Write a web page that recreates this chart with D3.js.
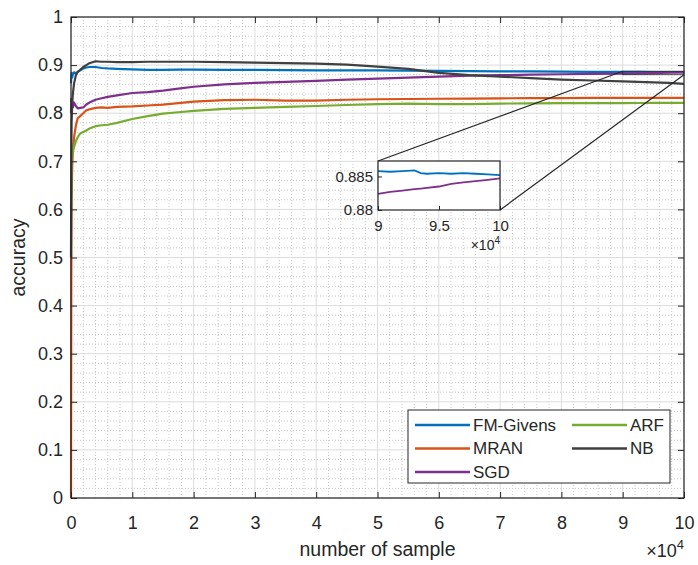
<!DOCTYPE html>
<html>
<head>
<meta charset="utf-8">
<script src="https://cdn.jsdelivr.net/npm/d3@7"></script>
<style>
body { margin: 0; background: #fff; }
svg { font-family: Arial, "Liberation Sans", Helvetica, sans-serif; }
</style>
</head>
<body>
<script>
// number of samples, in units of 10^4
var samples = [0, 0.005, 0.01, 0.02, 0.03, 0.05, 0.08, 0.11, 0.15, 0.2,
    0.25, 0.3, 0.4, 0.5, 0.6, 0.75, 1, 1.25, 1.5, 1.75,
    2, 2.5, 3, 3.5, 4, 4.5, 5, 5.5, 6, 6.5,
    7, 7.5, 8, 8.5, 9, 9.25, 9.5, 9.75, 10];

var fmGivens = [0.862, 0.878, 0.884, 0.874, 0.880, 0.885, 0.883, 0.886, 0.889, 0.893,
    0.895, 0.896, 0.896, 0.894, 0.893, 0.892, 0.891, 0.890, 0.890, 0.8905,
    0.8905, 0.890, 0.890, 0.8895, 0.889, 0.889, 0.889, 0.8885, 0.888, 0.8875,
    0.887, 0.8868, 0.8865, 0.886, 0.8858, 0.8859, 0.8855, 0.8854, 0.8852];

var mran = [0, 0.45, 0.62, 0.69, 0.72, 0.75, 0.775, 0.79, 0.794, 0.80,
    0.806, 0.808, 0.811, 0.812, 0.811, 0.813, 0.814, 0.816, 0.818, 0.821,
    0.824, 0.827, 0.828, 0.826, 0.826, 0.828, 0.829, 0.8295, 0.830, 0.8305,
    0.831, 0.8312, 0.8315, 0.8317, 0.8318, 0.832, 0.832, 0.832, 0.832];

var sgd = [0.80, 0.83, 0.815, 0.825, 0.812, 0.822, 0.815, 0.81, 0.811, 0.812,
    0.818, 0.822, 0.828, 0.831, 0.834, 0.837, 0.842, 0.844, 0.847, 0.851,
    0.855, 0.860, 0.863, 0.865, 0.867, 0.870, 0.872, 0.874, 0.876, 0.878,
    0.879, 0.880, 0.881, 0.8817, 0.8824, 0.8830, 0.8835, 0.8842, 0.8847];

var arf = [0.60, 0.67, 0.70, 0.71, 0.72, 0.73, 0.742, 0.750, 0.758, 0.761,
    0.764, 0.768, 0.773, 0.775, 0.776, 0.780, 0.788, 0.794, 0.799, 0.802,
    0.805, 0.809, 0.811, 0.813, 0.815, 0.817, 0.819, 0.820, 0.819, 0.819,
    0.820, 0.8205, 0.821, 0.821, 0.821, 0.8212, 0.8213, 0.8214, 0.8215];

var nb = [0.50, 0.70, 0.78, 0.82, 0.84, 0.862, 0.879, 0.886, 0.890, 0.896,
    0.900, 0.904, 0.908, 0.907, 0.907, 0.906, 0.906, 0.907, 0.907, 0.907,
    0.907, 0.906, 0.905, 0.904, 0.903, 0.901, 0.897, 0.892, 0.884, 0.879,
    0.876, 0.873, 0.870, 0.868, 0.866, 0.865, 0.864, 0.863, 0.861];

// zoomed part (9..10 x 10^4)
var insetX = [9, 9.1, 9.2, 9.3, 9.35, 9.4, 9.5, 9.6, 9.7, 9.8, 9.9, 10];
var insetFM = [0.8858, 0.8857, 0.8858, 0.8859, 0.8855, 0.8854, 0.8855, 0.8854, 0.8855, 0.8854, 0.8853, 0.8852];
var insetSGD = [0.8824, 0.8827, 0.8829, 0.8831, 0.8832, 0.8833, 0.8835, 0.8839, 0.8841, 0.8843, 0.8845, 0.8847];

var seriesNames = ["FM-Givens", "MRAN", "SGD", "ARF", "NB"];
var seriesColors = ["#0072BD", "#D95319", "#7E2F8E", "#77AC30", "#404040"];

var xTicks = [0, 1, 2, 3, 4, 5, 6, 7, 8, 9, 10];
var yTicks = [0, 0.1, 0.2, 0.3, 0.4, 0.5, 0.6, 0.7, 0.8, 0.9, 1];
var insetXTicks = [9, 9.5, 10];
var insetYTicks = [0.88, 0.885];
var zoomBox = { x0: 9, x1: 10, y0: 0.88, y1: 0.8873 };

width = 698;
height = 565;
margin = { top: 17, right: 14, bottom: 67, left: 71 };
inset = { left: 378, right: 500, top: 161, bottom: 210 };

var allSeries = [fmGivens, mran, sgd, arf, nb];

x = d3.scaleLinear().domain([0, 10]).range([margin.left, width - margin.right]);
y = d3.scaleLinear().domain([0, 1]).range([height - margin.bottom, margin.top]);

const svg = d3.select("body").append("svg")
    .attr("width", width)
    .attr("height", height)
    .attr("viewBox", [0, 0, width, height]);

svg.append("rect")
    .attr("x", margin.left).attr("y", margin.top)
    .attr("width", x(10) - x(0)).attr("height", y(0) - y(1))
    .attr("fill", "white");

// minor grid (dotted)
var minorX = d3.range(0, 10.001, 0.2).filter(d => Math.abs(d - Math.round(d)) > 0.01);
var minorY = d3.range(0, 1.0001, 0.02).filter(d => Math.abs(d * 10 - Math.round(d * 10)) > 0.01);
var grid = svg.append("g").attr("class", "grid");
grid.selectAll(".mx").data(minorX).join("line")
    .attr("x1", d => x(d)).attr("x2", d => x(d))
    .attr("y1", y(0)).attr("y2", y(1))
    .attr("stroke", "#c8c8c8").attr("stroke-dasharray", "1,2");
grid.selectAll(".my").data(minorY).join("line")
    .attr("y1", d => y(d)).attr("y2", d => y(d))
    .attr("x1", x(0)).attr("x2", x(10))
    .attr("stroke", "#c8c8c8").attr("stroke-dasharray", "1,2");
// major grid
grid.selectAll(".gx").data(xTicks).join("line")
    .attr("x1", d => x(d)).attr("x2", d => x(d))
    .attr("y1", y(0)).attr("y2", y(1))
    .attr("stroke", "#dcdcdc");
grid.selectAll(".gy").data(yTicks).join("line")
    .attr("y1", d => y(d)).attr("y2", d => y(d))
    .attr("x1", x(0)).attr("x2", x(10))
    .attr("stroke", "#dcdcdc");

// curves
var line = d3.line()
    .x((d, i) => x(samples[i]))
    .y(d => y(d));

svg.append("g")
    .selectAll("path")
    .data(allSeries)
    .join("path")
    .attr("fill", "none")
    .attr("stroke", (d, i) => seriesColors[i])
    .attr("stroke-width", 2.2)
    .attr("stroke-linejoin", "round")
    .attr("d", line);

// axes with inward ticks on all four sides
function styleAxis(g) {
    g.select(".domain").remove();
    g.selectAll(".tick line").attr("stroke", "#262626");
    g.selectAll(".tick text").attr("fill", "#262626");
}

svg.append("g")
    .attr("transform", `translate(0,${y(0)})`)
    .call(d3.axisBottom(x).tickValues(xTicks).tickSize(-6).tickPadding(18).tickFormat(d3.format("d")))
    .attr("font-size", 18).attr("font-family", null)
    .call(styleAxis);
svg.append("g")
    .attr("transform", `translate(0,${y(1)})`)
    .call(d3.axisTop(x).tickValues(xTicks).tickSize(-6).tickFormat(""))
    .call(styleAxis);
svg.append("g")
    .attr("transform", `translate(${x(0)},0)`)
    .call(d3.axisLeft(y).tickValues(yTicks).tickSize(-6).tickPadding(8).tickFormat(d => d === 0 || d === 1 ? d : d.toFixed(1)))
    .attr("font-size", 18).attr("font-family", null)
    .call(styleAxis);
svg.append("g")
    .attr("transform", `translate(${x(10)},0)`)
    .call(d3.axisRight(y).tickValues(yTicks).tickSize(-6).tickFormat(""))
    .call(styleAxis);

svg.append("rect")
    .attr("x", x(0)).attr("y", y(1))
    .attr("width", x(10) - x(0)).attr("height", y(0) - y(1))
    .attr("fill", "none").attr("stroke", "#262626").attr("stroke-width", 1.2);

// axis labels
svg.append("text")
    .attr("x", (x(0) + x(10)) / 2).attr("y", 556)
    .attr("text-anchor", "middle").attr("font-size", 19.5).attr("fill", "#262626")
    .text("number of sample");
var expo = svg.append("text")
    .attr("x", x(10)).attr("y", 557)
    .attr("text-anchor", "end").attr("font-size", 18).attr("fill", "#262626");
expo.append("tspan").text("\u00d710");
expo.append("tspan").attr("dy", -8).attr("font-size", 13).text("4");
svg.append("text")
    .attr("transform", `translate(25,${(y(0) + y(1)) / 2}) rotate(-90)`)
    .attr("text-anchor", "middle").attr("font-size", 19.5).attr("fill", "#262626")
    .text("accuracy");

// zoom box + connector lines
var ix = d3.scaleLinear().domain([zoomBox.x0, zoomBox.x1]).range([inset.left, inset.right]);
var iy = d3.scaleLinear().domain([zoomBox.y0, zoomBox.y1]).range([inset.bottom, inset.top]);

svg.append("rect")
    .attr("x", x(zoomBox.x0)).attr("y", y(zoomBox.y1))
    .attr("width", x(zoomBox.x1) - x(zoomBox.x0)).attr("height", y(zoomBox.y0) - y(zoomBox.y1))
    .attr("fill", "none").attr("stroke", "#262626").attr("stroke-width", 0.8);
svg.append("line")
    .attr("x1", ix(zoomBox.x0)).attr("y1", iy(zoomBox.y1))
    .attr("x2", x(zoomBox.x0)).attr("y2", y(zoomBox.y1))
    .attr("stroke", "#262626").attr("stroke-width", 1.2);
svg.append("line")
    .attr("x1", ix(zoomBox.x1)).attr("y1", iy(zoomBox.y0))
    .attr("x2", x(zoomBox.x1)).attr("y2", y(zoomBox.y0))
    .attr("stroke", "#262626").attr("stroke-width", 1.2);

// inset axes
var ig = svg.append("g").attr("class", "inset");
ig.append("rect")
    .attr("x", inset.left).attr("y", inset.top)
    .attr("width", inset.right - inset.left).attr("height", inset.bottom - inset.top)
    .attr("fill", "white");
var iline = d3.line().x((d, i) => ix(insetX[i])).y(d => iy(d));
ig.selectAll("path.series")
    .data([insetFM, insetSGD])
    .join("path")
    .attr("class", "series")
    .attr("fill", "none")
    .attr("stroke", (d, i) => [seriesColors[0], seriesColors[2]][i])
    .attr("stroke-width", 1.8)
    .attr("d", iline);
ig.append("g")
    .attr("transform", `translate(0,${inset.bottom})`)
    .call(d3.axisBottom(ix).tickValues(insetXTicks).tickSize(-4).tickPadding(10).tickFormat(d => d))
    .attr("font-size", 15).attr("font-family", null)
    .call(styleAxis);
ig.append("g")
    .attr("transform", `translate(${inset.left},0)`)
    .call(d3.axisLeft(iy).tickValues(insetYTicks).tickSize(-4).tickPadding(5).tickFormat(d => d))
    .attr("font-size", 15).attr("font-family", null)
    .call(styleAxis);
ig.append("rect")
    .attr("x", inset.left).attr("y", inset.top)
    .attr("width", inset.right - inset.left).attr("height", inset.bottom - inset.top)
    .attr("fill", "none").attr("stroke", "#262626").attr("stroke-width", 1.2);
var iexpo = ig.append("text")
    .attr("x", inset.right).attr("y", 250)
    .attr("text-anchor", "end").attr("font-size", 14).attr("fill", "#262626");
iexpo.append("tspan").text("\u00d710");
iexpo.append("tspan").attr("dy", -6).attr("font-size", 10).text("4");

// LEGEND (column-major, 2 columns)
function create_legend(this_svg, names, colors) {
    var box = { x: 408, y: 410, w: 262, h: 73 };
    var rowGap = 23.5;
    var colX = [415, 572];
    var lg = this_svg.append("g").attr("class", "legend");
    lg.append("rect")
        .attr("x", box.x).attr("y", box.y).attr("width", box.w).attr("height", box.h)
        .attr("fill", "white").attr("stroke", "#262626").attr("stroke-width", 1);
    var items = lg.selectAll("g.item").data(names).enter()
        .append("g").attr("class", "item")
        .attr("transform", (d, i) => "translate(" + colX[Math.floor(i / 3)] + "," + (box.y + 15 + rowGap * (i % 3)) + ")");
    items.append("line")
        .attr("x1", 0).attr("x2", 55)
        .attr("stroke", (d, i) => colors[i]).attr("stroke-width", 2.5);
    items.append("text")
        .attr("x", 58).attr("dy", "0.35em")
        .attr("font-size", 17).attr("fill", "#262626")
        .text(d => d);
}
create_legend(svg, seriesNames, seriesColors);
</script>
</body>
</html>
